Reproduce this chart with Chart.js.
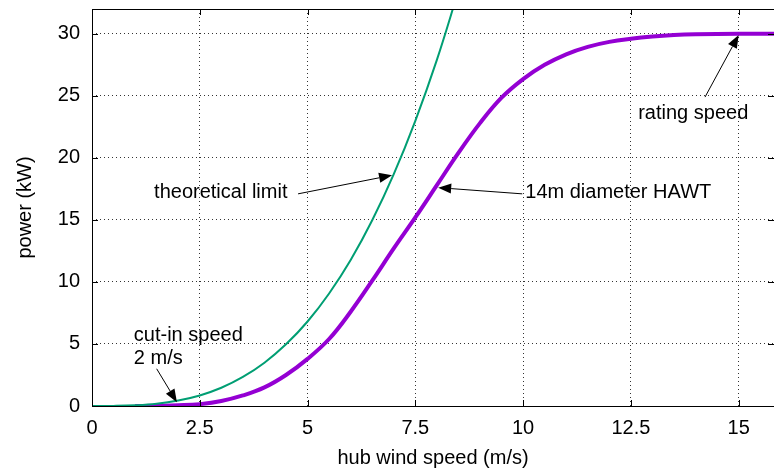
<!DOCTYPE html>
<html lang="en">
<head>
  <meta charset="UTF-8">
  <title>Wind turbine power curve</title>
  <script src="https://cdn.jsdelivr.net/npm/chart.js"></script>
  <style>
    body { margin: 0; background: #fff; }
    #wrap { width: 774px; height: 473px; }
  </style>
</head>
<body>
  <div id="wrap"><canvas id="powerChart" width="774" height="473"></canvas></div>

  <script>
    // Theoretical (Betz) limit
    const limitSpeed = [0, 0.5, 1, 1.5, 2, 2.5, 3, 3.5, 4, 4.5, 5, 5.5, 6, 6.5, 7, 7.5, 8, 8.5];
    const limitPower = [0, 0.007, 0.055, 0.18, 0.44, 0.85, 1.47, 2.34, 3.49, 4.97, 6.81, 9.07, 11.77, 14.97, 18.69, 22.99, 27.9, 33.47];

    // 14m diameter HAWT power curve
    const hawtSpeed = [1, 1.5, 2, 2.5, 3, 3.5, 4, 4.5, 5, 5.5, 6, 6.5, 7, 7.5, 8, 8.5, 9, 9.5, 10, 10.5, 11, 11.5, 12, 12.5, 13, 13.5, 14, 15, 15.82];
    const hawtPower = [0, 0.02, 0.06, 0.15, 0.4, 0.85, 1.5, 2.5, 3.8, 5.4, 7.6, 10.1, 12.7, 15.2, 17.8, 20.4, 22.8, 24.85, 26.35, 27.5, 28.35, 28.95, 29.35, 29.6, 29.78, 29.9, 29.96, 30, 30];

    const xRange = [0, 15.82];
    const yRange = [0, 32];
    const xStep = 2.5;
    const yStep = 5;

    // labels (data coords of the left edge / middle of text)
    const labels = [
      { lines: ['cut-in speed', '2 m/s'], x: 0.97, y: 5.7, dy: 1.9 },
      { lines: ['theoretical limit'], x: 1.44, y: 17.2 },
      { lines: ['14m diameter HAWT'], x: 10.05, y: 17.2 },
      { lines: ['rating speed'], x: 12.67, y: 23.6 }
    ];
    // arrows: [fromX, fromY, toX, toY] in data coords
    const arrows = [
      [1.5, 3.0, 1.97, 0.3],
      [4.78, 17.1, 6.96, 18.6],
      [9.98, 17.1, 8.03, 17.6],
      [14.22, 24.9, 15.0, 29.9]
    ];

    const FONT = '"Liberation Sans", Arial, Helvetica, sans-serif';
    Chart.defaults.font.family = FONT;
    Chart.defaults.font.size = 20;
    Chart.defaults.color = '#000';

    const zip = (xs, ys) => xs.map((x, i) => ({ x: x, y: ys[i] }));

    // frame, inward ticks, text labels and arrows (gnuplot look)
    const decorations = {
      id: 'decorations',
      afterDatasetsDraw(chart) {
        const { ctx, chartArea: a, scales: { x, y } } = chart;
        ctx.save();
        ctx.strokeStyle = '#000';
        ctx.lineWidth = 1;
        ctx.strokeRect(a.left + 0.5, a.top + 0.5, a.right - a.left, a.bottom - a.top);

        ctx.beginPath();
        x.ticks.forEach(t => {
          const px = Math.round(x.getPixelForValue(t.value)) + 0.5;
          ctx.moveTo(px, a.bottom); ctx.lineTo(px, a.bottom - 6);
          ctx.moveTo(px, a.top); ctx.lineTo(px, a.top + 6);
        });
        y.ticks.forEach(t => {
          const py = Math.round(y.getPixelForValue(t.value)) + 0.5;
          ctx.moveTo(a.left, py); ctx.lineTo(a.left + 6, py);
          ctx.moveTo(a.right, py); ctx.lineTo(a.right - 6, py);
        });
        ctx.stroke();

        ctx.fillStyle = '#000';
        ctx.font = '20px ' + FONT;
        ctx.textAlign = 'left';
        ctx.textBaseline = 'middle';
        labels.forEach(l => {
          l.lines.forEach((s, i) => {
            ctx.fillText(s, x.getPixelForValue(l.x), y.getPixelForValue(l.y - i * (l.dy || 0)));
          });
        });

        arrows.forEach(([x0, y0, x1, y1]) => {
          const ax = x.getPixelForValue(x0), ay = y.getPixelForValue(y0);
          const bx = x.getPixelForValue(x1), by = y.getPixelForValue(y1);
          const ang = Math.atan2(by - ay, bx - ax);
          const len = 13, half = 5;
          const baseX = bx - len * Math.cos(ang), baseY = by - len * Math.sin(ang);
          ctx.beginPath();
          ctx.moveTo(ax, ay); ctx.lineTo(baseX, baseY);
          ctx.stroke();
          ctx.beginPath();
          ctx.moveTo(bx, by);
          ctx.lineTo(baseX + half * Math.sin(ang), baseY - half * Math.cos(ang));
          ctx.lineTo(baseX - half * Math.sin(ang), baseY + half * Math.cos(ang));
          ctx.closePath();
          ctx.fill();
        });
        ctx.restore();
      }
    };

    new Chart(document.getElementById('powerChart'), {
      type: 'line',
      data: {
        datasets: [
          {
            label: 'theoretical limit',
            data: zip(limitSpeed, limitPower),
            borderColor: '#009e73',
            borderWidth: 2,
            pointRadius: 0,
            tension: 0.4
          },
          {
            label: '14m diameter HAWT',
            data: zip(hawtSpeed, hawtPower),
            borderColor: '#9400d3',
            borderWidth: 4,
            pointRadius: 0,
            tension: 0.4
          }
        ]
      },
      options: {
        responsive: false,
        animation: false,
        layout: { padding: { top: 9, right: 0, left: 0, bottom: 0 } },
        plugins: { legend: { display: false }, tooltip: { enabled: false } },
        scales: {
          x: {
            type: 'linear',
            min: xRange[0],
            max: xRange[1],
            afterFit: s => { s.height = 67; s.paddingLeft = 0; s.paddingRight = 0; },
            ticks: { stepSize: xStep, includeBounds: false, padding: 10, maxRotation: 0 },
            grid: { color: '#333', drawTicks: false },
            border: { display: false, dash: [1, 3] },
            title: { display: true, text: 'hub wind speed (m/s)', padding: { top: 0, bottom: 3 } }
          },
          y: {
            min: yRange[0],
            max: yRange[1],
            afterFit: s => { s.width = 92; s.paddingTop = 0; s.paddingBottom = 0; },
            ticks: { stepSize: yStep, includeBounds: false, padding: 12 },
            grid: { color: '#333', drawTicks: false },
            border: { display: false, dash: [1, 3] },
            title: { display: true, text: 'power (kW)', padding: { top: 13, bottom: 0 } }
          }
        }
      },
      plugins: [decorations]
    });
  </script>
</body>
</html>
